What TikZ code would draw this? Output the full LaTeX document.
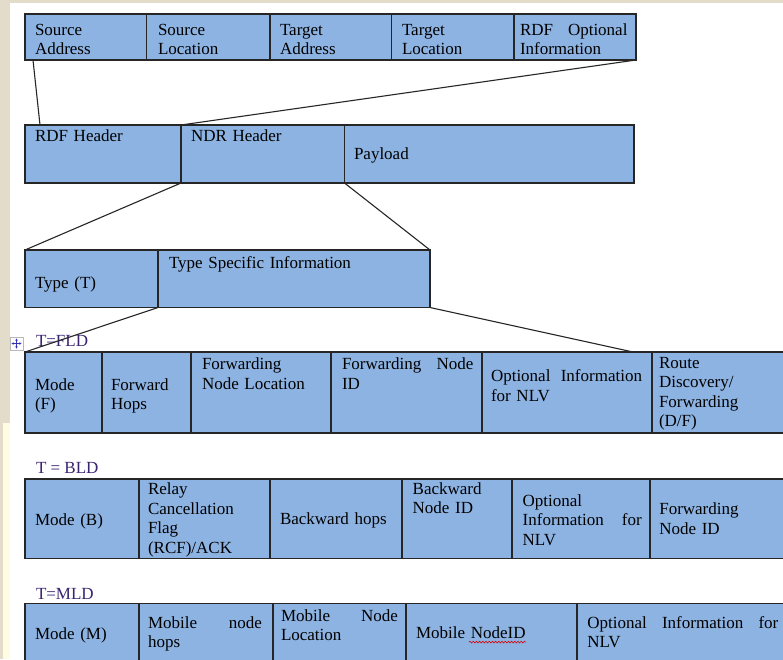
\documentclass[tikz,border=0pt]{standalone}
\usepackage{fontspec}
\setmainfont{Liberation Serif}
\usetikzlibrary{calc,fit,decorations.pathmorphing,arrows.meta}
\definecolor{cellblue}{HTML}{8DB3E2}
\definecolor{edgec}{HTML}{262626}
\definecolor{beigec}{HTML}{E4DCCB}
\definecolor{paleyel}{HTML}{FFFCE4}
\definecolor{labelc}{HTML}{3A2470}
\tikzset{
  cellbox/.style={draw=edgec, line width=1.2pt, fill=cellblue, inner sep=0pt, outer sep=0pt, rectangle},
  txt/.style={inner sep=0pt, outer sep=0pt, align=left, font=\fontsize{17}{19.5}\selectfont, text=black,
    execute at begin node={\parindent=0pt\strut}, execute at end node={\strut}},
  conn/.style={draw=edgec, line width=1.1pt},
  tlabel/.style={inner sep=0pt, outer sep=0pt, font=\fontsize{17}{19.5}\selectfont, text=labelc, anchor=base west}
}
% \fieldcell{name}{x1}{y1}{x2}{y2}
\newcommand{\fieldcell}[5]{\node[cellbox, fit={(#2,#3) (#4,#5)}] (#1) {};}
% \celltext{name}{cell}{dx}{baseline offset}{width}{text}
\newcommand{\celltext}[6]{\node[txt, text width=#5, anchor=north west] (#1) at ($(#2.north west)+(#3,#4-13.65)$) {#6};}
\begin{document}
\begin{tikzpicture}[x=1pt,y=-1pt]
\useasboundingbox (0,0) rectangle (783,659);
\clip (0,0) rectangle (783,659);
% background
\fill[white] (0,0) rectangle (783,659);
\fill[beigec] (0,0) rectangle (10,659);
\fill[beigec] (0,0) rectangle (783,3);
\fill[paleyel] (3,423) rectangle (10,659);

% ---- Row 1: RDF header fields
\fieldcell{sa}{25}{14}{146.5}{60}
\fieldcell{sl}{146.5}{14}{270}{60}
\fieldcell{ta}{270}{14}{391.5}{60}
\fieldcell{tl}{391.5}{14}{514}{60}
\fieldcell{ro}{514}{14}{636}{60}
\celltext{sat}{sa}{10}{21}{105}{Source\\Address}
\celltext{slt}{sl}{11.5}{21}{105}{Source\\Location}
\celltext{tat}{ta}{10}{21}{105}{Target\\Address}
\celltext{tlt}{tl}{10.5}{21}{105}{Target\\Location}
\celltext{rot}{ro}{6}{21}{107.5}{RDF\hfill Optional\\Information}

% ---- Row 2
\fieldcell{rdfh}{25}{125}{181}{183}
\fieldcell{ndr}{181}{125}{344.5}{183}
\fieldcell{pay}{344.5}{125}{634}{183}
\celltext{rdfht}{rdfh}{10}{16.7}{140}{RDF Header}
\celltext{ndrt}{ndr}{10}{16.7}{140}{NDR Header}
\celltext{payt}{pay}{9.5}{34.6}{200}{Payload}

% ---- Row 3
\fieldcell{typ}{25}{250}{158}{307.5}
\fieldcell{tsi}{158}{250}{430}{307.5}
\celltext{typt}{typ}{10}{38}{110}{Type (T)}
\celltext{tsit}{tsi}{11}{18}{250}{Type Specific Information}

% ---- T = FLD
\node[tlabel] (fldl) at (36,346.7) {T=FLD};
\fieldcell{mf}{25}{352}{102}{433}
\fieldcell{fh}{102}{352}{191}{433}
\fieldcell{fnl}{191}{352}{331}{433}
\fieldcell{fni}{331}{352}{482}{433}
\fieldcell{optf}{482}{352}{652}{433}
\fieldcell{rdf}{652}{352}{800}{433}
\celltext{mft}{mf}{10}{38}{65}{Mode\\(F)}
\celltext{fht}{fh}{9}{38}{78}{Forward\\Hops}
\celltext{fnlt}{fnl}{11}{17.5}{128}{Forwarding\\Node Location}
\celltext{fnit}{fni}{11}{17.5}{131.5}{Forwarding\hfill Node\\ID}
\celltext{optft}{optf}{9}{29.5}{151}{Optional\hfill Information\\for NLV}
\celltext{rdft}{rdf}{7}{16}{125}{Route\\Discovery/\\Forwarding\\(D/F)}

% ---- T = BLD
\node[tlabel] (bldl) at (36,473.3) {T = BLD};
\fieldcell{mb}{25}{479}{139}{558.5}
\fieldcell{rcf}{139}{479}{270}{558.5}
\fieldcell{bh}{270}{479}{402}{558.5}
\fieldcell{bni}{402}{479}{512}{558.5}
\fieldcell{optb}{512}{479}{650}{558.5}
\fieldcell{fnib}{650}{479}{800}{558.5}
\celltext{mbt}{mb}{10}{46.3}{100}{Mode (B)}
\celltext{rcft}{rcf}{9}{15.5}{118}{Relay\\Cancellation\\Flag\\(RCF)/ACK}
\celltext{bht}{bh}{10}{45.8}{120}{Backward hops}
\celltext{bnit}{bni}{10.7}{15}{98}{Backward\\Node ID}
\celltext{optbt}{optb}{10.7}{27.3}{119}{Optional\\Information\hfill for\\NLV}
\celltext{fnibt}{fnib}{9.3}{35.7}{120}{Forwarding\\Node ID}

% ---- T = MLD
\node[tlabel] (mldl) at (36,599.5) {T=MLD};
\fieldcell{mm}{25}{603.3}{139}{668}
\fieldcell{mnh}{139}{603.3}{273}{668}
\fieldcell{mnl}{273}{603.3}{406}{668}
\fieldcell{mnid}{406}{603.3}{577}{668}
\fieldcell{optm}{577}{603.3}{800}{668}
\celltext{mmt}{mm}{10}{35.8}{100}{Mode (M)}
\celltext{mnht}{mnh}{9}{24.7}{114}{Mobile\hfill node\\hops}
\celltext{mnlt}{mnl}{8}{18}{117}{Mobile\hfill Node\\Location}
\celltext{mnidt}{mnid}{10}{35.2}{155}{Mobile NodeID}
\celltext{optmt}{optm}{10.3}{24.7}{191}{Optional\hfill Information\hfill for\\NLV}
\coordinate (sqa) at ($(mnid.north west)+(63,38.8)$);
\coordinate (sqb) at ($(mnid.north west)+(120,38.8)$);
\draw[red!85!black, line width=0.6pt, decorate, decoration={snake, amplitude=0.9pt, segment length=3.2pt}] (sqa) -- (sqb);

% ---- table move handle
\draw[gray!55, fill=white, line width=0.5pt] (10,337) rectangle (23,350);
\draw[blue!65!black!80, line width=0.6pt, {Stealth[length=2.2pt,width=2.6pt]}-{Stealth[length=2.2pt,width=2.6pt]}] (11.5,343.5) -- (21.5,343.5);
\draw[blue!65!black!80, line width=0.6pt, {Stealth[length=2.2pt,width=2.6pt]}-{Stealth[length=2.2pt,width=2.6pt]}] (16.5,338.5) -- (16.5,348.5);

% ---- connectors
\draw[conn] ($(sa.south west)+(8,0)$) -- ($(rdfh.north west)+(15,0)$);
\draw[conn] (ro.south east) -- (ndr.north west);
\draw[conn] (ndr.south west) -- (typ.north west);
\draw[conn] (pay.south west) -- (tsi.north east);
\draw[conn] (tsi.south west) -- (mf.north west);
\draw[conn] (tsi.south east) -- ($(optf.north east)+(-19,0)$);
\end{tikzpicture}
\end{document}
